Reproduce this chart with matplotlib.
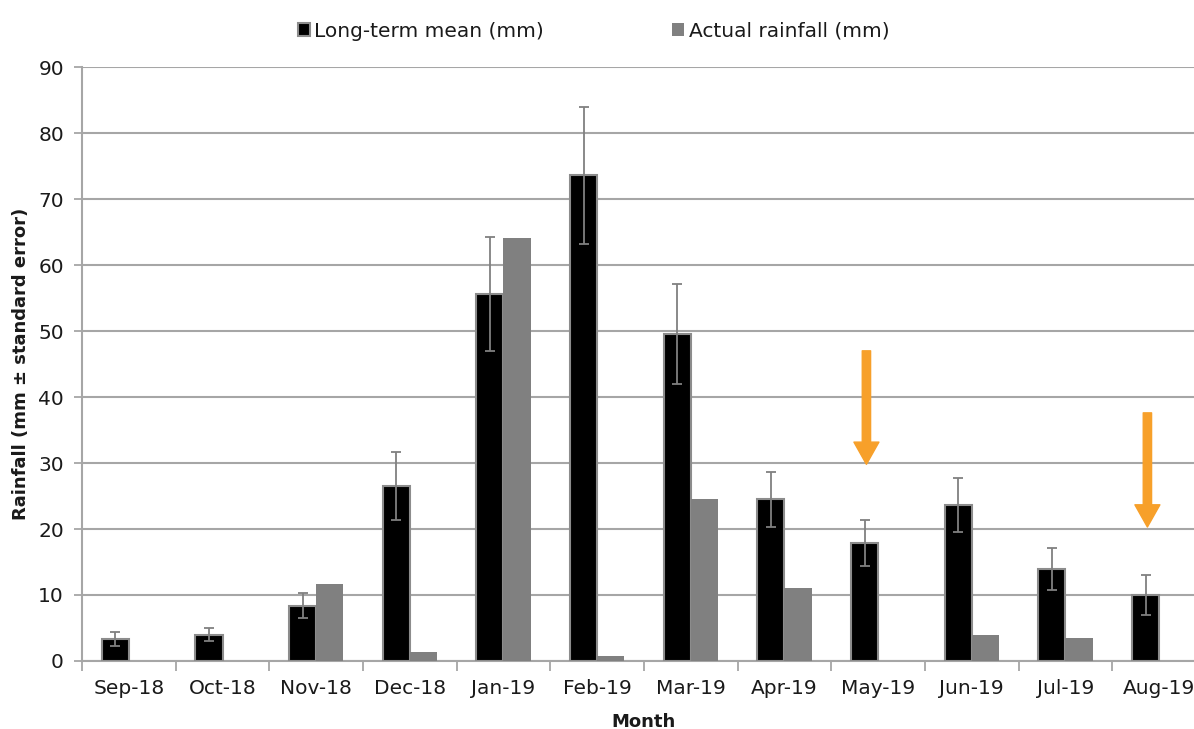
import numpy as np
import matplotlib.pyplot as plt

months = ["Sep-18", "Oct-18", "Nov-18", "Dec-18", "Jan-19", "Feb-19",
          "Mar-19", "Apr-19", "May-19", "Jun-19", "Jul-19", "Aug-19"]
long_term_mean = [3.3, 4.0, 8.4, 26.5, 55.6, 73.6, 49.5, 24.5, 17.9, 23.6, 13.9, 10.0]
mean_se = [1.1, 1.0, 1.9, 5.2, 8.6, 10.4, 7.6, 4.2, 3.5, 4.1, 3.2, 3.1]
actual_rainfall = [0, 0, 11.7, 1.3, 64.1, 0.8, 24.6, 11.0, 0, 4.0, 3.5, 0]

# arrows marking May and Aug (start value, tip value)
arrow_months = ["May-19", "Aug-19"]
arrow_top = [47.0, 37.6]
arrow_tip = [29.8, 20.3]

plt.rcParams['font.family'] = ['DejaVu Sans']

fig = plt.figure(figsize=(11.94, 7.29), dpi=100)
ax = fig.add_axes([0.0687, 0.0933, 0.9413, 0.8147])

x = np.arange(len(months))
w = 0.29
grid_c = "#a6a6a6"
txt_c = "#1a1a1a"

ax.bar(x - w / 2, long_term_mean, w, color="black", edgecolor="#8c8c8c",
       linewidth=1.5, label="Long-term mean (mm)", zorder=3)
ax.errorbar(x - w / 2, long_term_mean, yerr=mean_se, fmt="none",
            ecolor="#808080", elinewidth=1.3, capsize=3.5, capthick=1.3, zorder=4)
ax.bar(x + w / 2, actual_rainfall, w, color="#808080",
       label="Actual rainfall (mm)", zorder=3)

for m, top, tip in zip(arrow_months, arrow_top, arrow_tip):
    xi = months.index(m) - w / 2 + 0.02
    ax.annotate("", xy=(xi, tip), xytext=(xi, top),
                arrowprops=dict(arrowstyle="simple,head_length=16,head_width=18,tail_width=6",
                                mutation_scale=1, color="#f7a02a", shrinkA=0, shrinkB=0),
                zorder=5)

ax.set_xlim(-0.5, len(months) - 0.5)
ax.set_ylim(0, 90)
ax.set_yticks(range(0, 91, 10))
ax.set_xticks(x)
ax.set_xticklabels(months)
ax.set_xticks(np.arange(-0.5, len(months), 1), minor=True)
ax.tick_params(axis="x", which="major", length=0, pad=13, labelsize=14.5, colors=txt_c)
ax.tick_params(axis="x", which="minor", length=7, width=1.3, color=grid_c)
ax.tick_params(axis="y", length=6, width=1.3, color=grid_c, labelsize=14.5,
               labelcolor=txt_c, pad=7)

ax.yaxis.grid(True, color=grid_c, linewidth=1.5, zorder=0)
ax.set_axisbelow(True)
for s in ["top", "right"]:
    ax.spines[s].set_visible(False)
for s in ["left", "bottom"]:
    ax.spines[s].set_color(grid_c)
    ax.spines[s].set_linewidth(1.5)

ax.set_xlabel("Month", fontsize=13, fontweight="bold", labelpad=11, color=txt_c)
ax.set_ylabel("Rainfall (mm \u00b1 standard error)", fontsize=13, fontweight="bold",
              labelpad=6, color=txt_c)

ax.legend(loc="center", bbox_to_anchor=(0.455, 1.06), ncol=2, frameon=False,
          fontsize=14.5, handlelength=0.6, handleheight=0.6, handletextpad=0.2,
          columnspacing=6.4, labelcolor=txt_c)

fig.savefig("out.png", dpi=100)
